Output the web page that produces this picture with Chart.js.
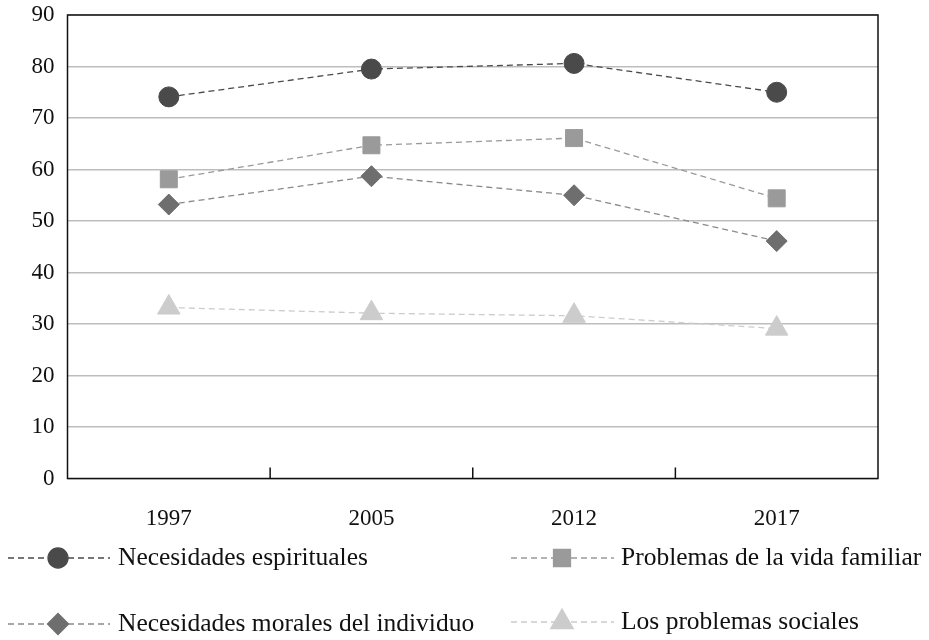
<!DOCTYPE html>
<html>
<head>
<meta charset="utf-8">
<script src="https://cdn.jsdelivr.net/npm/chart.js@4.4.1/dist/chart.umd.min.js"></script>
<style>
    html, body { margin: 0; padding: 0; background: #fff; }
    #wrap { width: 929px; height: 640px; }
</style>
</head>
<body>
<div id="wrap"><canvas id="chart"></canvas></div>
<script>
// Data
const years = ['1997', '2005', '2012', '2017'];
const espirituales = [74.1, 79.5, 80.6, 75.0];
const familiar = [58.1, 64.7, 66.1, 54.4];
const morales = [53.2, 58.7, 55.0, 46.1];
const sociales = [33.2, 32.1, 31.6, 29.1];
const yTicks = [0, 10, 20, 30, 40, 50, 60, 70, 80, 90];

const FONT = '"Liberation Serif", "DejaVu Serif", serif';

// Legend slots (two columns, two rows)
const legendSlots = [
    { lineFrom: 8, lineTo: 110, marker: 58, text: 118, y: 558 },
    { lineFrom: 511, lineTo: 614, marker: 562, text: 621, y: 558 },
    { lineFrom: 8, lineTo: 110, marker: 58, text: 118, y: 624 },
    { lineFrom: 511, lineTo: 614, marker: 562, text: 621, y: 622 }
];

// Box around plot, small tick marks between categories, custom legend
const framePlugin = {
    id: 'frame',
    beforeDatasetsDraw(chart) {
        const { ctx, chartArea: a, scales: { x } } = chart;
        ctx.save();
        ctx.strokeStyle = '#111';
        ctx.lineWidth = 1.5;
        ctx.strokeRect(a.left, a.top, a.right - a.left, a.bottom - a.top);
        ctx.beginPath();
        for (let i = 0; i < years.length - 1; i++) {
            const px = (x.getPixelForValue(i) + x.getPixelForValue(i + 1)) / 2;
            ctx.moveTo(px, a.bottom);
            ctx.lineTo(px, a.bottom - 11);
        }
        ctx.stroke();
        ctx.restore();
    },
    afterDraw(chart) {
        const { ctx } = chart;
        ctx.save();
        chart.data.datasets.forEach((ds, i) => {
            const s = legendSlots[i];
            ctx.strokeStyle = ds.borderColor;
            ctx.lineWidth = ds.borderWidth;
            ctx.setLineDash(ds.borderDash);
            ctx.beginPath();
            ctx.moveTo(s.lineFrom, s.y);
            ctx.lineTo(s.lineTo, s.y);
            ctx.stroke();
            ctx.setLineDash([]);
            ctx.fillStyle = ds.pointBackgroundColor;
            ctx.strokeStyle = ds.pointBorderColor;
            Chart.helpers.drawPoint(ctx, {
                pointStyle: ds.pointStyle,
                radius: ds.pointRadius,
                rotation: 0,
                borderWidth: ds.pointBorderWidth
            }, s.marker, s.y);
            ctx.fillStyle = '#111';
            ctx.font = '25.5px ' + FONT;
            ctx.textBaseline = 'middle';
            ctx.textAlign = 'left';
            ctx.fillText(ds.label, s.text, s.y);
        });
        ctx.restore();
    }
};

function series(label, data, line, fill, style, radius) {
    return {
        label: label,
        data: data,
        borderColor: line,
        borderWidth: 1.3,
        borderDash: [6, 4],
        pointStyle: style,
        pointRadius: radius,
        pointHoverRadius: radius,
        pointBackgroundColor: fill,
        pointBorderColor: fill,
        pointBorderWidth: 1,
        tension: 0,
        fill: false
    };
}

const ctx = document.getElementById('chart').getContext('2d');
new Chart(ctx, {
    type: 'line',
    data: {
        labels: years,
        datasets: [
            series('Necesidades espirituales', espirituales, '#4a4a4a', '#4a4a4a', 'circle', 10),
            series('Problemas de la vida familiar', familiar, '#9a9a9a', '#9a9a9a', 'rect', 12),
            series('Necesidades morales del individuo', morales, '#8a8a8a', '#6e6e6e', 'rectRot', 10.5),
            series('Los problemas sociales', sociales, '#cccccc', '#cccccc', 'triangle', 13)
        ]
    },
    options: {
        responsive: true,
        maintainAspectRatio: false,
        animation: false,
        events: [],
        layout: {
            padding: { top: 15, right: 51, bottom: 101.5, left: 0 }
        },
        plugins: {
            legend: { display: false },
            tooltip: { enabled: false }
        },
        scales: {
            x: {
                offset: true,
                grid: { display: false },
                border: { display: false },
                ticks: {
                    color: '#111',
                    font: { family: FONT, size: 23 },
                    padding: 19
                },
                afterFit(scale) {
                    scale.height = 60;
                    scale.paddingLeft = 0;
                    scale.paddingRight = 0;
                }
            },
            y: {
                min: yTicks[0],
                max: yTicks[yTicks.length - 1],
                afterBuildTicks(scale) {
                    scale.ticks = yTicks.map(v => ({ value: v }));
                },
                grid: {
                    color: '#bdbdbd',
                    lineWidth: 1.5,
                    drawTicks: false
                },
                border: { display: false },
                ticks: {
                    color: '#111',
                    font: { family: FONT, size: 23 },
                    padding: 13
                },
                afterFit(scale) {
                    scale.width = 67.5;
                    scale.paddingTop = 0;
                    scale.paddingBottom = 0;
                }
            }
        }
    },
    plugins: [framePlugin]
});
</script>
</body>
</html>
